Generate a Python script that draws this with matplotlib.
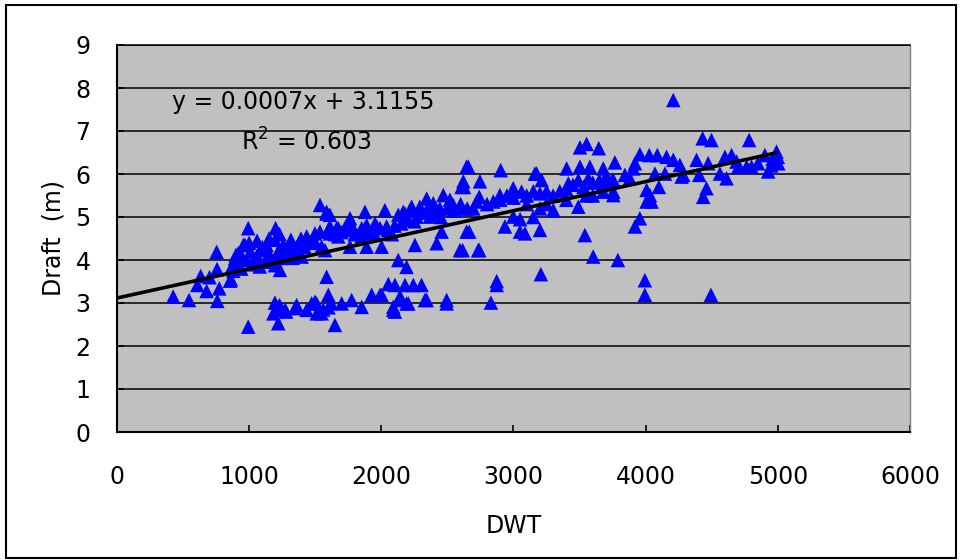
import matplotlib
matplotlib.use("Agg")
import matplotlib.pyplot as plt
from matplotlib.patches import Rectangle

plt.rcParams['font.family'] = ['DejaVu Sans']
plt.rcParams['mathtext.fontset'] = 'dejavusans'

# Ship deadweight tonnage (t) and draft (m)
dwt = [
    # small vessels
    425, 545, 608, 633, 678, 700, 754, 757, 774, 759, 855, 862, 893, 900, 918, 956, 968,
    993, 993, 981, 1044, 1082, 1120, 1132, 1195, 1200, 1195, 1233, 1258, 1284, 1316, 1347,
    1392, 1397, 1435, 1498, 1536, 1586, 1611, 1548, 1574, 1586, 1611,
    870, 920, 950, 1010, 1060, 1100, 1150, 1170, 1220, 1250, 1300, 1330, 1370, 1420, 1460,
    1480, 1020, 1080, 940, 1000, 1060, 1150, 1230, 1300, 1200, 880,
    # shallow-draft group
    1183, 1195, 1220, 1271, 1347, 1359, 1435, 1473, 1498, 1511, 1548, 1599, 1511, 1649, 1700,
    1775, 1851, 1927, 1990, 2002, 2053, 2103, 2179, 2242, 2304, 2090, 2153, 2204, 2103, 2090,
    2141, 2191, 2330, 2343, 2494, 2494, 2128, 2191, 1230, 1280, 1600, 1560, 1620, 1210,
    # mid-size vessels
    1536, 1599, 1674, 1763, 1876, 1965, 2040, 1498, 1763, 1889, 2002, 2254, 2419, 2595, 2456,
    2645, 1586, 1763, 1876, 2027, 2128, 2166, 2216, 2343, 2469, 2607, 2645, 1611, 1662, 1725,
    1775, 1889, 1952, 2179, 2229, 2292, 2393, 2519, 2620, 2191, 2267, 2368, 2443, 2544, 1674,
    1901, 1990, 1851,
    1650, 1700, 1800, 1850, 1950, 2050, 2100, 2150, 2250, 2300, 2400, 2450, 2500, 2550, 2600,
    2650, 2350, 2080,
    # larger vessels
    2658, 2903, 3175, 3162, 3213, 3503, 3553, 3645, 3402, 3503, 3578, 3679, 3767, 2625, 2746,
    2741, 2607, 2695, 2897, 2998, 3061, 3415, 3490, 3566, 3679, 3742, 2721, 2847, 3679, 3755,
    2935, 3049, 3087, 3200, 3301, 2998, 3490, 3540, 3603, 3790, 3207, 2873, 2873, 2829, 2665,
    2615, 2733, 2741,
    2800, 2900, 2950, 3000, 3100, 3150, 3200, 3250, 3300, 3350, 3400, 3450, 3530, 3600, 3650,
    3700, 3100, 3200, 3250, 3400, 3550, 3600, 3050, 3150,
    # largest vessels
    4209, 4431, 4498, 4783, 3956, 4027, 4088, 4158, 4209, 4259, 3919, 3906, 3843, 3755, 4070,
    4146, 4284, 4385, 4473, 4405, 4600, 4650, 4688, 4562, 4612, 4701, 4764, 4801, 4902, 4990,
    4965, 5003, 4927, 4460, 4435, 4007, 4032, 4007, 4045, 3956, 3919, 3994, 3994, 4494, 3755,
    4272, 4960, 5000, 4950, 4850, 4100, 3880,
]

draft = [
    3.15, 3.07, 3.42, 3.63, 3.28, 3.60, 4.19, 3.79, 3.34, 3.05, 3.52, 3.55, 4.04, 4.12, 4.16, 4.35, 4.35,
    4.74, 2.45, 4.00, 4.00, 4.23, 3.96, 4.35, 4.47, 4.74, 3.88, 3.77, 4.35, 4.23, 4.47, 4.23,
    4.50, 4.08, 4.55, 4.62, 5.28, 5.08, 4.78, 4.31, 4.23, 3.61, 4.62,
    3.85, 3.90, 4.05, 4.20, 4.10, 4.30, 4.15, 4.00, 4.20, 4.05, 4.30, 4.05, 4.35, 4.30, 4.40,
    4.45, 3.90, 3.85, 3.80, 4.40, 4.45, 4.50, 4.60, 4.10, 4.05, 3.75,
    2.76, 3.01, 2.53, 2.84, 2.88, 2.95, 2.84, 2.99, 3.03, 2.76, 2.76, 3.19, 2.99, 2.49, 2.99,
    3.07, 2.91, 3.19, 3.19, 3.19, 3.44, 3.42, 3.42, 3.42, 3.42, 2.91, 3.07, 2.99, 2.80, 2.84,
    3.15, 2.99, 3.07, 3.07, 3.07, 2.99, 4.00, 3.84, 2.95, 2.80, 2.90, 2.85, 3.00, 2.85,
    4.66, 4.70, 4.74, 4.70, 4.74, 4.78, 4.78, 4.43, 4.31, 4.31, 4.31, 4.35, 4.39, 4.23, 4.66,
    4.66, 5.12, 4.97, 5.12, 5.16, 5.05, 5.12, 5.16, 5.43, 5.51, 5.70, 6.17, 5.05, 4.74, 4.74,
    4.81, 4.81, 4.85, 5.08, 5.24, 5.24, 5.32, 5.40, 5.83, 4.93, 5.01, 5.01, 5.20, 5.28, 4.55,
    4.62, 4.74, 4.74,
    4.60, 4.65, 4.60, 4.55, 4.60, 4.70, 4.80, 4.85, 4.90, 5.10, 5.10, 5.00, 5.20, 5.15, 5.30,
    5.20, 5.20, 4.60,
    6.17, 6.09, 6.01, 6.01, 5.86, 6.62, 6.70, 6.60, 6.13, 6.17, 6.17, 6.13, 6.27, 5.70, 5.83,
    5.47, 5.20, 5.20, 5.51, 5.67, 5.59, 5.78, 5.86, 5.90, 5.78, 5.83, 5.36, 5.36, 5.59, 5.59,
    4.78, 4.66, 4.62, 4.70, 5.16, 5.01, 5.24, 4.58, 4.08, 4.00, 3.67, 3.51, 3.42, 3.01, 4.66,
    4.23, 4.23, 4.23,
    5.30, 5.40, 5.50, 5.45, 5.50, 5.60, 5.55, 5.60, 5.50, 5.60, 5.65, 5.75, 5.70, 5.80, 5.85,
    5.95, 5.30, 5.20, 5.30, 5.40, 5.50, 5.50, 4.95, 5.00,
    7.72, 6.83, 6.79, 6.79, 6.46, 6.44, 6.44, 6.40, 6.33, 6.21, 6.25, 6.13, 5.98, 5.86, 6.01,
    6.01, 5.98, 6.33, 6.25, 5.98, 6.40, 6.44, 6.29, 6.01, 5.90, 6.17, 6.17, 6.17, 6.44, 6.52,
    6.29, 6.25, 6.06, 5.67, 5.47, 5.63, 5.51, 5.36, 5.36, 4.97, 4.78, 3.53, 3.19, 3.19, 5.51,
    5.94, 6.35, 6.40, 6.20, 6.25, 5.70, 5.90,
]

# Linear trend line
slope = 0.000677
intercept = 3.1155
trend_x = [0, 5000]
trend_y = [intercept + slope * v for v in trend_x]

x_ticks = [0, 1000, 2000, 3000, 4000, 5000, 6000]
y_ticks = list(range(0, 10))

FS = 17

fig = plt.figure(figsize=(9.62, 5.60), dpi=100)
ax = fig.add_axes([117 / 962, 1 - 432 / 560, 793 / 962, 387 / 560])
ax.set_facecolor('#C0C0C0')

for yv in y_ticks[1:]:
    ax.axhline(yv, color='black', lw=1.1, zorder=1)

ax.scatter(dwt, draft, marker='^', s=110, color='#0000FF', edgecolors='none', zorder=3)
ax.plot(trend_x, trend_y, color='black', lw=2.6, zorder=4, solid_capstyle='butt')

ax.set_xlim(0, 6000)
ax.set_ylim(0, 9)
ax.set_xticks(x_ticks)
ax.set_yticks(y_ticks)
ax.tick_params(axis='both', direction='in', length=5, width=1.2, labelsize=FS, color='black')
ax.tick_params(axis='x', pad=24)
ax.tick_params(axis='y', pad=19)

for side in ('left', 'bottom'):
    ax.spines[side].set_linewidth(1.5)
    ax.spines[side].set_color('black')
ax.spines['top'].set_color('black')
ax.spines['top'].set_linewidth(1.1)
ax.spines['right'].set_color('#808080')
ax.spines['right'].set_linewidth(1.0)

ax.set_xlabel('DWT', fontsize=FS, labelpad=18)
ax.set_ylabel('Draft  (m)', fontsize=FS, labelpad=7)

fig.text(172 / 962, 1 - 102 / 560, 'y = 0.0007x + 3.1155', fontsize=FS, va='center', ha='left')
fig.text(241 / 962, 1 - 142 / 560, r'R$^2$ = 0.603', fontsize=FS, va='center', ha='left')

fig.patches.append(Rectangle((6 / 962, 2 / 560), 950 / 962, 553 / 560, transform=fig.transFigure,
                             fill=False, edgecolor='black', lw=1.5))

fig.savefig('out.png', dpi=100)
